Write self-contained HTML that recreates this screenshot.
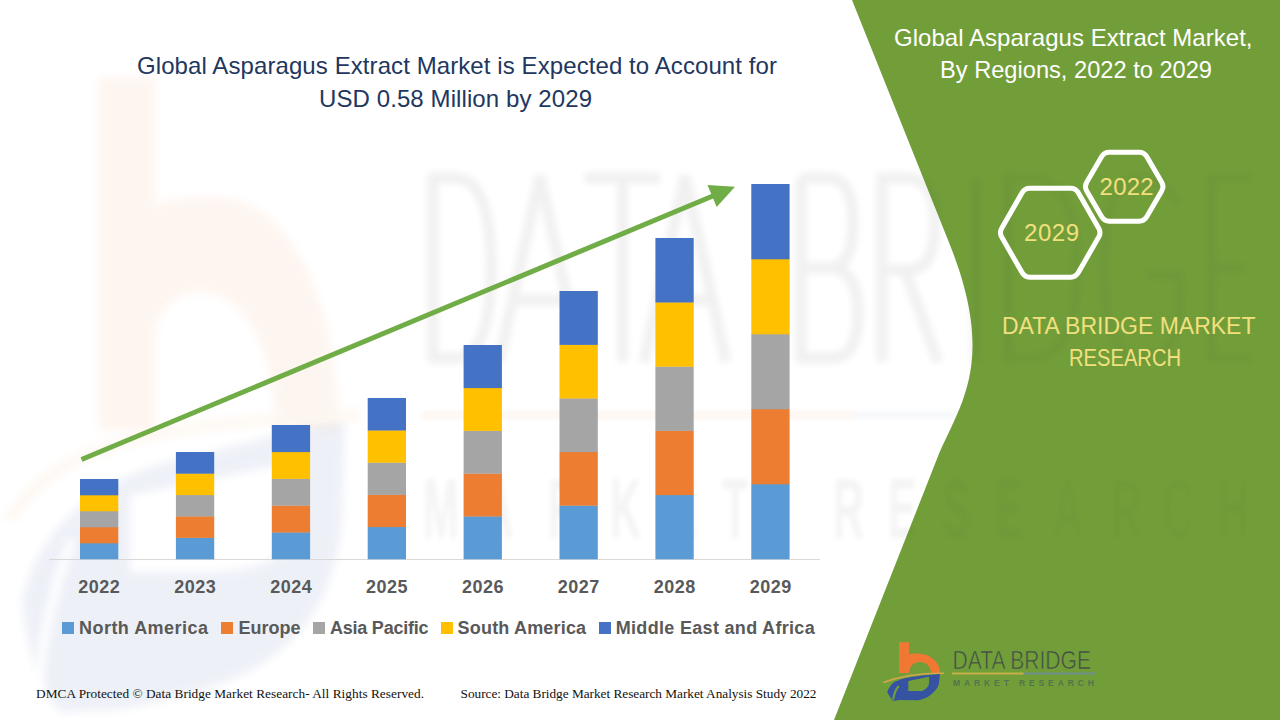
<!DOCTYPE html>
<html><head><meta charset="utf-8"><style>
html,body{margin:0;padding:0;background:#fff;}
body{width:1280px;height:720px;overflow:hidden;position:relative;}
svg{position:absolute;left:0;top:0;display:block;}
text{font-family:"Liberation Sans",sans-serif;}
.sf{font-family:"Liberation Serif",serif;}
</style></head><body>
<svg width="1280" height="720" viewBox="0 0 1280 720">
<rect width="1280" height="720" fill="#fff"/>
<path d="M852,0 L949.7,244.3 C998.1,365.4 957.6,406.7 937.1,458.6 L834,720 L1280,720 L1280,0 Z" fill="#729E3A"/>
<defs><filter id="bl" x="-20%" y="-20%" width="140%" height="140%"><feGaussianBlur stdDeviation="2.5"/></filter>
<filter id="bl3" x="-20%" y="-20%" width="140%" height="140%"><feGaussianBlur stdDeviation="3.2"/></filter>
<filter id="bl2" x="-20%" y="-20%" width="140%" height="140%"><feGaussianBlur stdDeviation="4"/></filter></defs>
<g id="wm-b" opacity="0.07" filter="url(#bl2)">
<path d="M99,77.5 L155,77.5 L155,205 C175,198 200,196 225,198 C290,205 338,300 338,430 L275,430 C275,340 240,292 200,292 C175,292 160,310 155,330 L155,430 L99,430 Z" fill="#ED7D31"/>
<path d="M9,520 C50,450 150,420 360,415" fill="none" stroke="#ED9A40" stroke-width="10"/>
</g>
<g id="wm-eye" opacity="0.08" filter="url(#bl2)">
<path d="M22,600 C40,520 110,470 200,455 C260,440 300,425 345,423 L342,520 C335,600 300,640 260,665 C220,690 150,706 110,710 L60,712 C40,690 25,640 22,600 Z M130,495 L295,462 C300,505 295,535 280,555 C260,568 235,572 200,572 L130,572 Z" fill="#2F4F9F" fill-rule="evenodd"/>
</g>
<path d="M36,712 C40,650 52,590 72,540" fill="none" stroke="#fff" stroke-width="9" filter="url(#bl2)"/>
<clipPath id="cw"><path d="M0,0 L852,0 L949.7,244.3 C998.1,365.4 957.6,406.7 937.1,458.6 L834,720 L0,720 Z"/></clipPath><clipPath id="cg"><path d="M852,0 L949.7,244.3 C998.1,365.4 957.6,406.7 937.1,458.6 L834,720 L1280,720 L1280,0 Z"/></clipPath><g clip-path="url(#cw)"><g opacity="0.07" fill="none" stroke="#404040" stroke-width="11" filter="url(#bl3)">
<path d="M433,178 V358 H455 Q491,358 491,268 Q491,178 455,178 Z"/>
<path d="M499,362 L540,176 L581,362 M513,300 H567"/>
<path d="M585,178 H660 M622.5,178 V362"/>
<path d="M644,362 L685,176 L726,362 M658,300 H712"/>
<path d="M801,178 V358 H832 Q858,358 858,313 Q858,268 828,268 H801 M828,268 Q853,268 853,223 Q853,178 828,178 H801"/>
<path d="M882,362 V178 H908 Q935,178 935,224 Q935,270 908,270 H882 M905,270 L938,362"/>
<path d="M976,178 V362"/>
<path d="M1008,178 V358 H1030 Q1077,358 1077,268 Q1077,178 1030,178 Z"/>
<path d="M1178,205 Q1165,178 1140,178 Q1104,178 1104,268 Q1104,358 1140,358 Q1180,358 1180,300 V275 H1145"/>
<path d="M1253,178 H1211 V358 H1253 M1211,268 H1247"/>
</g></g><g clip-path="url(#cg)"><g opacity="0.04" fill="none" stroke="#303030" stroke-width="11" filter="url(#bl3)">
<path d="M433,178 V358 H455 Q491,358 491,268 Q491,178 455,178 Z"/>
<path d="M499,362 L540,176 L581,362 M513,300 H567"/>
<path d="M585,178 H660 M622.5,178 V362"/>
<path d="M644,362 L685,176 L726,362 M658,300 H712"/>
<path d="M801,178 V358 H832 Q858,358 858,313 Q858,268 828,268 H801 M828,268 Q853,268 853,223 Q853,178 828,178 H801"/>
<path d="M882,362 V178 H908 Q935,178 935,224 Q935,270 908,270 H882 M905,270 L938,362"/>
<path d="M976,178 V362"/>
<path d="M1008,178 V358 H1030 Q1077,358 1077,268 Q1077,178 1030,178 Z"/>
<path d="M1178,205 Q1165,178 1140,178 Q1104,178 1104,268 Q1104,358 1140,358 Q1180,358 1180,300 V275 H1145"/>
<path d="M1253,178 H1211 V358 H1253 M1211,268 H1247"/>
</g></g>
<g clip-path="url(#cw)"><g id="wm-line" opacity="0.07" filter="url(#bl)">
<rect x="423" y="411" width="430" height="8" fill="#ED7D31"/>
<rect x="853" y="411" width="410" height="8" fill="#5070A0" opacity="0.6"/>
</g></g>
<g clip-path="url(#cw)"><g opacity="0.055" font-weight="bold" font-size="86" fill="#404040" filter="url(#bl)">
<text transform="translate(423,538) scale(0.5,1)">M</text>
<text transform="translate(482,538) scale(0.5,1)">A</text>
<text transform="translate(548,538) scale(0.5,1)">R</text>
<text transform="translate(610,538) scale(0.5,1)">K</text>
<text transform="translate(668,538) scale(0.5,1)">E</text>
<text transform="translate(722,538) scale(0.5,1)">T</text>
<text transform="translate(833,538) scale(0.5,1)">R</text>
<text transform="translate(888,538) scale(0.5,1)">E</text>
<text transform="translate(942,538) scale(0.5,1)">S</text>
<text transform="translate(996,538) scale(0.5,1)">E</text>
<text transform="translate(1052,538) scale(0.5,1)">A</text>
<text transform="translate(1111,538) scale(0.5,1)">R</text>
<text transform="translate(1162,538) scale(0.5,1)">C</text>
<text transform="translate(1218,538) scale(0.5,1)">H</text>
</g></g><g clip-path="url(#cg)"><g opacity="0.03" font-weight="bold" font-size="86" fill="#303030" filter="url(#bl)">
<text transform="translate(423,538) scale(0.5,1)">M</text>
<text transform="translate(482,538) scale(0.5,1)">A</text>
<text transform="translate(548,538) scale(0.5,1)">R</text>
<text transform="translate(610,538) scale(0.5,1)">K</text>
<text transform="translate(668,538) scale(0.5,1)">E</text>
<text transform="translate(722,538) scale(0.5,1)">T</text>
<text transform="translate(833,538) scale(0.5,1)">R</text>
<text transform="translate(888,538) scale(0.5,1)">E</text>
<text transform="translate(942,538) scale(0.5,1)">S</text>
<text transform="translate(996,538) scale(0.5,1)">E</text>
<text transform="translate(1052,538) scale(0.5,1)">A</text>
<text transform="translate(1111,538) scale(0.5,1)">R</text>
<text transform="translate(1162,538) scale(0.5,1)">C</text>
<text transform="translate(1218,538) scale(0.5,1)">H</text>
</g></g>
<text x="137" y="74.4" font-size="24" fill="#223760" textLength="640" lengthAdjust="spacing">Global Asparagus Extract Market is Expected to Account for</text>
<text x="319" y="106.9" font-size="24" fill="#223760" textLength="273" lengthAdjust="spacing">USD 0.58 Million by 2029</text>
<line x1="49" y1="559.5" x2="820" y2="559.5" stroke="#D9D9D9" stroke-width="1"/>
<rect x="80.00" y="543.00" width="38.3" height="16.30" fill="#5B9BD5"/>
<rect x="80.00" y="527.00" width="38.3" height="16.30" fill="#ED7D31"/>
<rect x="80.00" y="511.00" width="38.3" height="16.30" fill="#A5A5A5"/>
<rect x="80.00" y="495.00" width="38.3" height="16.30" fill="#FFC000"/>
<rect x="80.00" y="479.00" width="38.3" height="16.30" fill="#4472C4"/>
<rect x="175.90" y="537.60" width="38.3" height="21.70" fill="#5B9BD5"/>
<rect x="175.90" y="516.20" width="38.3" height="21.70" fill="#ED7D31"/>
<rect x="175.90" y="494.80" width="38.3" height="21.70" fill="#A5A5A5"/>
<rect x="175.90" y="473.40" width="38.3" height="21.70" fill="#FFC000"/>
<rect x="175.90" y="452.00" width="38.3" height="21.70" fill="#4472C4"/>
<rect x="271.80" y="532.20" width="38.3" height="27.10" fill="#5B9BD5"/>
<rect x="271.80" y="505.40" width="38.3" height="27.10" fill="#ED7D31"/>
<rect x="271.80" y="478.60" width="38.3" height="27.10" fill="#A5A5A5"/>
<rect x="271.80" y="451.80" width="38.3" height="27.10" fill="#FFC000"/>
<rect x="271.80" y="425.00" width="38.3" height="27.10" fill="#4472C4"/>
<rect x="367.70" y="526.80" width="38.3" height="32.50" fill="#5B9BD5"/>
<rect x="367.70" y="494.60" width="38.3" height="32.50" fill="#ED7D31"/>
<rect x="367.70" y="462.40" width="38.3" height="32.50" fill="#A5A5A5"/>
<rect x="367.70" y="430.20" width="38.3" height="32.50" fill="#FFC000"/>
<rect x="367.70" y="398.00" width="38.3" height="32.50" fill="#4472C4"/>
<rect x="463.60" y="516.20" width="38.3" height="43.10" fill="#5B9BD5"/>
<rect x="463.60" y="473.40" width="38.3" height="43.10" fill="#ED7D31"/>
<rect x="463.60" y="430.60" width="38.3" height="43.10" fill="#A5A5A5"/>
<rect x="463.60" y="387.80" width="38.3" height="43.10" fill="#FFC000"/>
<rect x="463.60" y="345.00" width="38.3" height="43.10" fill="#4472C4"/>
<rect x="559.50" y="505.40" width="38.3" height="53.90" fill="#5B9BD5"/>
<rect x="559.50" y="451.80" width="38.3" height="53.90" fill="#ED7D31"/>
<rect x="559.50" y="398.20" width="38.3" height="53.90" fill="#A5A5A5"/>
<rect x="559.50" y="344.60" width="38.3" height="53.90" fill="#FFC000"/>
<rect x="559.50" y="291.00" width="38.3" height="53.90" fill="#4472C4"/>
<rect x="655.40" y="494.80" width="38.3" height="64.50" fill="#5B9BD5"/>
<rect x="655.40" y="430.60" width="38.3" height="64.50" fill="#ED7D31"/>
<rect x="655.40" y="366.40" width="38.3" height="64.50" fill="#A5A5A5"/>
<rect x="655.40" y="302.20" width="38.3" height="64.50" fill="#FFC000"/>
<rect x="655.40" y="238.00" width="38.3" height="64.50" fill="#4472C4"/>
<rect x="751.30" y="484.00" width="38.3" height="75.30" fill="#5B9BD5"/>
<rect x="751.30" y="409.00" width="38.3" height="75.30" fill="#ED7D31"/>
<rect x="751.30" y="334.00" width="38.3" height="75.30" fill="#A5A5A5"/>
<rect x="751.30" y="259.00" width="38.3" height="75.30" fill="#FFC000"/>
<rect x="751.30" y="184.00" width="38.3" height="75.30" fill="#4472C4"/>
<g font-size="18" font-weight="bold" fill="#595959">
<text x="99.10" y="592.5" text-anchor="middle" textLength="41.5">2022</text>
<text x="195.00" y="592.5" text-anchor="middle" textLength="41.5">2023</text>
<text x="290.90" y="592.5" text-anchor="middle" textLength="41.5">2024</text>
<text x="386.80" y="592.5" text-anchor="middle" textLength="41.5">2025</text>
<text x="482.70" y="592.5" text-anchor="middle" textLength="41.5">2026</text>
<text x="578.60" y="592.5" text-anchor="middle" textLength="41.5">2027</text>
<text x="674.50" y="592.5" text-anchor="middle" textLength="41.5">2028</text>
<text x="770.40" y="592.5" text-anchor="middle" textLength="41.5">2029</text>
</g>
<line x1="81.5" y1="459.5" x2="714" y2="195.5" stroke="#70AD47" stroke-width="5"/>
<polygon points="707.5,185 735,186.7 716.7,207" fill="#70AD47"/>
<g font-size="18" font-weight="bold" fill="#595959">
<rect x="62" y="622" width="12" height="12" fill="#5B9BD5"/><text x="79" y="633.75" textLength="129">North America</text>
<rect x="221" y="622" width="12" height="12" fill="#ED7D31"/><text x="238.5" y="633.75" textLength="62">Europe</text>
<rect x="313" y="622" width="12" height="12" fill="#A5A5A5"/><text x="330" y="633.75" textLength="98.5">Asia Pacific</text>
<rect x="441" y="622" width="12" height="12" fill="#FFC000"/><text x="457.6" y="633.75" textLength="128.5">South America</text>
<rect x="599" y="622" width="12" height="12" fill="#4472C4"/><text x="615.7" y="633.75" textLength="199">Middle East and Africa</text>
</g>
<g font-size="13.3" fill="#111">
<text class="sf" x="36" y="697.7" textLength="388">DMCA Protected © Data Bridge Market Research- All Rights Reserved.</text>
<text class="sf" x="460.5" y="697.7" textLength="356">Source: Data Bridge Market Research Market Analysis Study 2022</text>
</g>
<text x="894" y="45.5" font-size="24" fill="#fff" textLength="358.5">Global Asparagus Extract Market,</text>
<text x="940" y="77.5" font-size="24" fill="#fff" textLength="272" lengthAdjust="spacingAndGlyphs">By Regions, 2022 to 2029</text>
<path d="M1001.69,237.04 Q999.20,232.70 1001.69,228.36 L1022.21,192.54 Q1024.70,188.20 1029.70,188.20 L1070.70,188.20 Q1075.70,188.20 1078.19,192.54 L1098.71,228.36 Q1101.20,232.70 1098.71,237.04 L1078.19,272.86 Q1075.70,277.20 1070.70,277.20 L1029.70,277.20 Q1024.70,277.20 1022.21,272.86 Z" fill="none" stroke="#fff" stroke-width="5"/>
<path d="M1086.71,191.03 Q1084.20,186.70 1086.71,182.37 L1101.69,156.53 Q1104.20,152.20 1109.20,152.20 L1139.20,152.20 Q1144.20,152.20 1146.71,156.53 L1161.69,182.37 Q1164.20,186.70 1161.69,191.03 L1146.71,216.87 Q1144.20,221.20 1139.20,221.20 L1109.20,221.20 Q1104.20,221.20 1101.69,216.87 Z" fill="none" stroke="#fff" stroke-width="5"/>
<text x="1024" y="240.7" font-size="24" fill="#F2E07E" textLength="55">2029</text>
<text x="1099.6" y="194.8" font-size="24" fill="#F2E07E" textLength="54">2022</text>
<text x="1002" y="333.9" font-size="23.5" fill="#F2E07E" textLength="253.5" lengthAdjust="spacingAndGlyphs">DATA BRIDGE MARKET</text>
<text x="1069" y="365.7" font-size="23.5" fill="#F2E07E" textLength="112" lengthAdjust="spacingAndGlyphs">RESEARCH</text>
<g id="logo">
<path d="M899,642.3 L909,642.3 L909,654.5 C911,653.8 914,653.5 917,653.5 C930,653.5 940,662 940,673 L931,673 C931,666.5 926,662 920,662 C914,662 909,666.5 909,673 L899,673 Z" fill="#F07833"/>
<path d="M883.3,682.5 C900,676 918,673 944,673.2" fill="none" stroke="#D6A550" stroke-width="1.4"/>
<path d="M887.2,691.7 C890,686 893,682 896.7,681.1 C903,678 913,676 940,673.9 L938.9,683.3 C938,688 935.6,690 935.6,690 C932,694 929,696 927.2,697.2 C922,699.5 918,700.3 916.1,700.3 L899.4,700 C896,700.8 894,700.8 892.8,700.6 C890,697 888,694 887.2,691.7 Z M908.3,681.1 L928.9,676.7 C929.5,680 929,684 928.3,686.1 C926,689 924,690.5 922.2,691.1 L908.3,691.1 Z" fill="#3552A3" fill-rule="evenodd"/>
<path d="M893.2,699.5 C894,694 896,689 898.8,686" fill="none" stroke="#6E9E3E" stroke-width="2.2"/>
<text x="952.5" y="669.4" font-size="26" fill="#3E4B45" stroke="#729E3A" stroke-width="0.7" textLength="138.5" lengthAdjust="spacingAndGlyphs">DATA BRIDGE</text>
<rect x="952" y="672.5" width="71.75" height="2" fill="#C4B049"/>
<rect x="1023.75" y="672.5" width="71.85" height="2" fill="#6F8F8A"/>
<text x="953" y="686.3" font-size="8.6" fill="#52744A" textLength="141" font-weight="bold">MARKET   RESEARCH</text>
</g>
</svg>
</body></html>
